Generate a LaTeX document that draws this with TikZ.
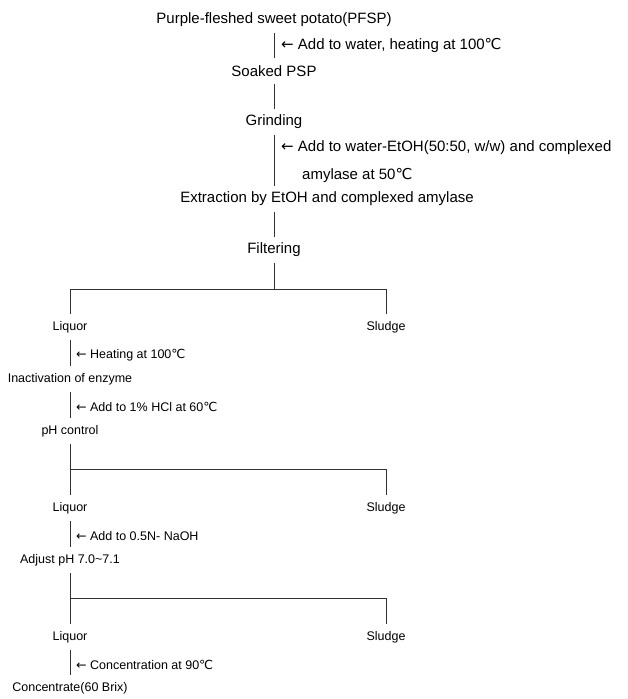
\documentclass[tikz,border=0pt]{standalone}
\usepackage{fontspec}
\setmainfont{Liberation Sans}
\newfontfamily\symf{DejaVu Sans}
\newcommand{\degc}{{\symf\char"2103}}
\newcommand{\larr}{{\symf\char"2190}}
\begin{document}
\begin{tikzpicture}[x=1pt,y=-1pt,
  stepnode/.style={inner sep=0pt,minimum height=26pt,font=\fontsize{12.5}{14}\selectfont},
  bigstep/.style={stepnode,font=\fontsize{15}{17}\selectfont},
  note/.style={inner sep=0pt,anchor=west,font=\fontsize{12.5}{14}\selectfont},
  bignote/.style={note,font=\fontsize{15}{17}\selectfont},
  conn/.style={draw=black!80,line width=0.6pt}]
\useasboundingbox (0,0) rectangle (628,699);
\node[bigstep] (pfsp) at (274,20) {Purple-fleshed sweet potato(PFSP)};
\node[bigstep] (soak) at (274,71) {Soaked PSP};
\node[bigstep] (grind) at (274,122) {Grinding};
\node[bigstep] (extr) at (327,199) {Extraction by EtOH and complexed amylase};
\node[bigstep] (filt) at (274,250) {Filtering};
\coordinate (j1) at (274,289);
\node[stepnode] (liq1) at (70,327) {Liquor};
\node[stepnode] (slu1) at (386,327) {Sludge};
\node[stepnode] (inact) at (70,379) {Inactivation of enzyme};
\node[stepnode] (phc) at (70,431) {pH control};
\coordinate (j2) at (70,469);
\node[stepnode] (liq2) at (70,508) {Liquor};
\node[stepnode] (slu2) at (386,508) {Sludge};
\node[stepnode] (adj) at (70,560) {Adjust pH 7.0\textasciitilde 7.1};
\coordinate (j3) at (70,598);
\node[stepnode] (liq3) at (70,637) {Liquor};
\node[stepnode] (slu3) at (386,637) {Sludge};
\node[stepnode] (conc) at (70,688) {Concentrate(60 Brix)};
% notes
\node[bignote] (n1) at (281,45) {\larr\ Add to water, heating at 100\degc};
\node[bignote] (n2) at (281,148) {\larr\ Add to water-EtOH(50:50, w/w) and complexed};
\node[bignote] (n2b) at (302,175) {amylase at 50\degc};
\node[note] (n3) at (76,355) {\larr\ Heating at 100\degc};
\node[note] (n4) at (76,407) {\larr\ Add to 1\% HCl at 60\degc};
\node[note] (n5) at (76,536) {\larr\ Add to 0.5N- NaOH};
\node[note] (n6) at (76,665) {\larr\ Concentration at 90\degc};
% connectors
\draw[conn] (pfsp.south) -- (soak.north);
\draw[conn] (soak.south) -- (grind.north);
\draw[conn] (grind.south) -- (grind.south |- extr.north);
\draw[conn] (grind.south |- extr.south) -- (filt.north);
\draw[conn] (filt.south) -- (j1);
\draw[conn] (liq1.north) |- (j1);
\draw[conn] (slu1.north) |- (j1);
\draw[conn] (liq1.south) -- (inact.north);
\draw[conn] (inact.south) -- (phc.north);
\draw[conn] (phc.south) -- (liq2.north);
\draw[conn] (j2) -| (slu2.north);
\draw[conn] (liq2.south) -- (adj.north);
\draw[conn] (adj.south) -- (liq3.north);
\draw[conn] (j3) -| (slu3.north);
\draw[conn] (liq3.south) -- (conc.north);
\end{tikzpicture}
\end{document}
